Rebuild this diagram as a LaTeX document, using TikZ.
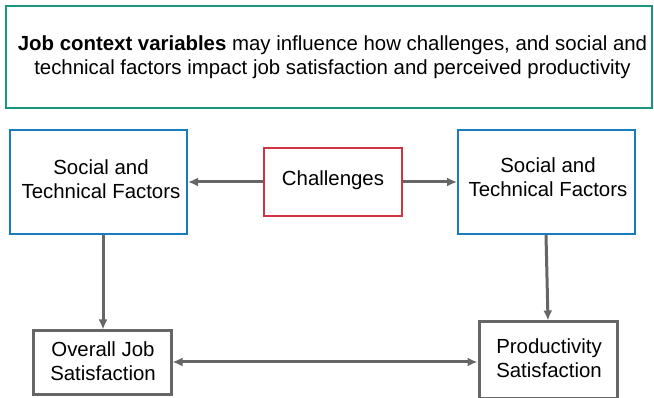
\documentclass[tikz,border=0pt]{standalone}
\usepackage{fontspec}
\setmainfont{Liberation Sans}
\usetikzlibrary{arrows.meta}
\definecolor{teal1}{RGB}{26,150,128}
\definecolor{blue1}{RGB}{24,124,194}
\definecolor{red1}{RGB}{208,52,64}
\definecolor{gray1}{RGB}{102,102,102}
\tikzset{
  lbl/.style={font=\fontsize{20.4}{24}\selectfont, align=center, inner sep=0pt},
  bluebox/.style={draw=blue1, line width=2pt, minimum width=177pt, minimum height=104pt},
  redbox/.style={draw=red1, line width=2pt, minimum width=138pt, minimum height=68pt},
  graybox/.style={draw=gray1, line width=3pt, minimum width=138pt},
  conn/.style={draw=gray1, line width=3pt, -{Latex[length=10pt,width=9pt]}},
}
\begin{document}
\begin{tikzpicture}[x=1pt,y=-1pt]
\useasboundingbox (0,0) rectangle (654,398);
\node[draw=teal1, line width=2pt, minimum width=646pt, minimum height=102pt] (top) at (329,57) {};
\node[lbl] at (332.5,57) {\textbf{Job context variables} may influence how challenges, and social and\\technical factors impact job satisfaction and perceived productivity};
\node[bluebox] (stl) at (98.5,182) {};
\node[lbl] at (101,179) {Social and\\Technical Factors};
\node[bluebox] (str) at (546.5,182) {};
\node[lbl] at (548,177) {Social and\\Technical Factors};
\node[redbox] (ch) at (333,182) {};
\node[lbl] at (333,180) {Challenges};
\node[graybox, minimum height=63pt] (ojs) at (102,362.5) {};
\node[lbl] at (103,361) {Overall Job\\Satisfaction};
\node[graybox, minimum height=76pt] (ps) at (548,360) {};
\node[lbl] at (549,358) {Productivity\\Satisfaction};
\draw[conn] (ch.west |- 0,182) -- (stl.east |- 0,182);
\draw[conn] (ch.east |- 0,182) -- (str.west |- 0,182);
\draw[conn] (stl.south -| 103,0) -- (ojs.north -| 103,0);
\draw[conn] (str.south -| 546,0) -- (ps.north -| 548,0);
\draw[conn, {Latex[length=10pt,width=9pt]}-{Latex[length=10pt,width=9pt]}] (ojs.east |- 0,362) -- (ps.west |- 0,362);
\end{tikzpicture}
\end{document}
